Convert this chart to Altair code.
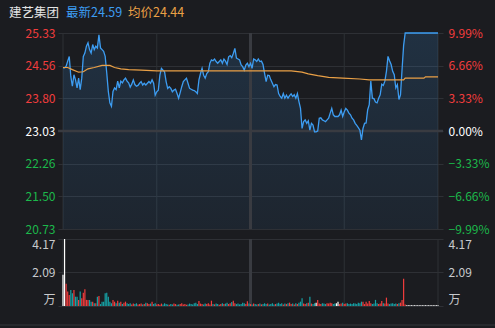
import altair as alt
import pandas as pd

# ---------------- data ----------------
TITLE = "建艺集团"
LATEST = "最新24.59"
AVG_TXT = "均价24.44"
PRE_CLOSE = 23.03
PRICE_TICKS = [20.73, 21.50, 22.26, 23.03, 23.80, 24.56, 25.33]
PCT_TICKS = [-9.99, -6.66, -3.33, 0.0, 3.33, 6.66, 9.99]
VOL_TICKS = [0, 2.09, 4.17]
TIME_POS = [0, 60, 120, 180, 240]
TIME_LABELS = ["09:30", "10:30", "11:30", "14:00", "15:00"]

price = [
    24.51, 24.51, 24.55, 24.67, 24.78, 24.31, 24.08, 24.35, 24.23, 24.04,
    24.27, 24.00, 24.27, 24.78, 24.86, 25.02, 25.10, 24.94, 24.86, 25.06,
    24.94, 25.02, 24.98, 25.29, 24.98, 24.94, 24.90, 24.78, 24.39, 23.96,
    23.69, 23.61, 23.96, 24.04, 24.00, 24.20, 24.04, 24.20, 24.16, 24.23,
    24.27, 24.20, 24.16, 24.06, 24.13, 24.23, 24.12, 24.08, 24.10,
    24.15, 24.19, 24.11, 24.15, 24.11, 24.15, 24.19, 24.15, 24.23, 24.15,
    23.87, 23.95, 23.99, 24.34, 24.50, 24.46, 24.42, 24.19, 24.03, 24.07,
    24.03, 23.95, 23.99, 24.01, 23.91, 23.80, 23.93, 24.07, 24.19, 24.23,
    24.27, 24.15, 24.03, 24.01, 23.99, 23.98, 23.95, 23.91, 24.23, 24.38,
    24.50, 24.34, 24.27, 24.38, 24.42, 24.62, 24.70, 24.68,
    24.72, 24.66, 24.62, 24.66, 24.70, 24.62, 24.72, 24.67, 24.59, 24.77,
    24.80, 24.75, 24.85, 24.97, 24.74, 24.72, 24.70, 24.58, 24.54, 24.46,
    24.58, 24.62, 24.54, 24.62, 24.50, 24.72, 24.70, 24.66, 24.72, 24.66,
    24.67, 24.59, 24.38, 24.19, 24.34, 24.33, 24.23, 24.15, 24.07, 24.12,
    24.11, 23.91, 23.84, 23.80, 23.91, 23.80, 23.87, 23.80, 23.86,
    23.90, 23.84, 23.88, 23.80, 23.91, 23.72, 23.56, 23.09, 23.25, 23.29,
    23.21, 23.27, 23.05, 23.21, 23.17, 23.01, 23.01, 23.03, 23.33, 23.34,
    23.29, 23.27, 23.25, 23.29, 23.33, 23.45, 23.56, 23.41, 23.37, 23.37,
    23.37, 23.41, 23.52, 23.37, 23.48, 23.56, 23.52, 23.45, 23.41, 23.33,
    23.29, 23.21, 23.16, 23.11, 23.05, 22.82, 23.09, 23.21, 23.22,
    23.53, 23.65, 24.20, 23.80, 23.79, 23.71, 23.69, 23.80, 23.88, 24.13,
    24.10, 24.20, 24.43, 24.78, 24.68, 24.59, 24.43, 24.35, 24.04, 24.12,
    23.77, 23.88, 24.48, 25.04, 25.33,
    25.33, 25.33, 25.33, 25.33, 25.33, 25.33, 25.33, 25.33, 25.33, 25.33,
    25.33, 25.33, 25.33, 25.33, 25.33, 25.33, 25.33, 25.33, 25.33, 25.33,
    25.33,
]

avg_t = [0, 3, 6, 10, 13, 16, 20, 25, 30, 33, 37, 42, 50, 60, 146, 153, 157,
         163, 170, 179, 190, 196, 218, 219, 231, 232, 240]
avg_p = [24.52, 24.52, 24.47, 24.41, 24.42, 24.49, 24.52, 24.57, 24.57, 24.52,
         24.49, 24.47, 24.46, 24.44, 24.44, 24.41, 24.37, 24.33, 24.29, 24.27,
         24.25, 24.23, 24.23, 24.27, 24.27, 24.30, 24.30]

volume = [
    1.94, 4.17, 1.38, 0.90, 0.69, 1.00, 0.79, 1.00, 0.58, 0.58,
    0.38, 0.90, 0.48, 0.83, 1.04, 0.38, 0.38, 0.38, 0.27, 0.27,
    0.17, 0.17, 0.58, 0.63, 0.12, 0.27, 0.27, 0.79, 0.83, 0.58,
    0.27, 0.17, 0.38, 0.27, 0.17, 0.33, 0.21, 0.27, 0.12, 0.21,
    0.27, 0.17, 0.12, 0.17, 0.10, 0.15, 0.12, 0.17, 0.10, 0.12,
    0.15, 0.10, 0.12, 0.21, 0.17, 0.12, 0.15, 0.27, 0.12, 0.17,
    0.10, 0.12, 0.08, 0.15, 0.10, 0.17, 0.12, 0.10, 0.08, 0.12,
    0.10, 0.15, 0.12, 0.08, 0.10, 0.12, 0.17, 0.10, 0.12, 0.08,
    0.10, 0.15, 0.12, 0.10, 0.17, 0.21, 0.12, 0.31, 0.15, 0.12,
    0.10, 0.15, 0.12, 0.17, 0.10, 0.33, 0.12, 0.10, 0.15, 0.12,
    0.08, 0.12, 0.17, 0.12, 0.15, 0.21, 0.12, 0.17, 0.25, 0.33,
    0.17, 0.12, 0.15, 0.10, 0.12, 0.21, 0.17, 0.12, 0.29, 0.15,
    0.12, 0.10, 0.15, 0.12, 0.10, 0.12, 0.15, 0.10, 0.12, 0.17,
    0.12, 0.15, 0.10, 0.12, 0.17, 0.10, 0.12, 0.15, 0.21, 0.12,
    0.17, 0.10, 0.15, 0.12, 0.17, 0.21, 0.12, 0.15, 0.10, 0.17,
    0.12, 0.21, 0.27, 0.48, 0.15, 0.12, 0.17, 0.21, 0.58, 0.15,
    0.12, 0.17, 0.21, 0.38, 0.15, 0.12, 0.17, 0.15, 0.12, 0.17,
    0.15, 0.21, 0.17, 0.12, 0.15, 0.17, 0.27, 0.12, 0.15, 0.21,
    0.12, 0.15, 0.17, 0.12, 0.15, 0.12, 0.17, 0.15, 0.12, 0.21,
    0.17, 0.27, 0.27, 0.12, 0.27, 0.15, 0.31, 0.17, 0.12, 0.15,
    0.38, 0.17, 0.12, 0.15, 0.31, 0.17, 0.15, 0.52, 0.15, 0.12,
    0.15, 0.17, 0.12, 0.15, 0.12, 0.17, 0.21, 0.38, 1.69, 0.10,
    0.05, 0.05, 0.05, 0.05, 0.05, 0.05, 0.05, 0.05, 0.05, 0.05,
    0.05, 0.05, 0.05, 0.05, 0.05, 0.05, 0.05, 0.05, 0.05, 0.05,
    0.05,
]

# ---------------- styles ----------------
BG = "#1b1c20"
GRID = "#2e3035"
THICK = "#393b41"
BLUE = "#3d9df2"
ORANGE = "#eaa046"
RED = "#f23d3d"
GREEN = "#1cb84b"
TEAL = "#16a2a6"
WHITE = "#ffffff"
LABEL = "#c8cacd"
FONT = "Noto Sans CJK SC"

W = 385
P_TOP, P_BOT = 0, 196      # price panel pixel band
V_TOP, V_BOT = 206, 273    # volume panel pixel band

n = len(price)
minutes = list(range(n))
dirs = ["flat"] + [
    "up" if price[i] > price[i - 1] else ("down" if price[i] < price[i - 1] else "flat")
    for i in range(1, n)
]
df_price = pd.DataFrame({"t": minutes, "price": price})
df_avg = pd.DataFrame({"t": avg_t, "avg": avg_p})
df_vol = pd.DataFrame({"t": minutes, "vol": volume, "dir": dirs})
df_pticks = pd.DataFrame({"p": PRICE_TICKS})
df_pct = pd.DataFrame({"pct": PCT_TICKS})
df_volticks = pd.DataFrame({"v": VOL_TICKS})
df_pre = pd.DataFrame({"p": [PRE_CLOSE]})
df_time = pd.DataFrame({"t": TIME_POS})
df_noon = pd.DataFrame({"t": [TIME_POS[2]]})

time_expr = "''"
for pos, lab in reversed(list(zip(TIME_POS, TIME_LABELS))):
    time_expr = f"datum.value == {pos} ? '{lab}' : ({time_expr})"

xscale = alt.Scale(domain=[TIME_POS[0], TIME_POS[-1]], nice=False, zero=False)


def pscale():
    return alt.Scale(domain=[PRICE_TICKS[0], PRICE_TICKS[-1]], nice=False, zero=False,
                     range=[P_BOT, P_TOP])


pctscale = alt.Scale(domain=[PCT_TICKS[0], PCT_TICKS[-1]], nice=False, zero=False,
                     range=[P_BOT, P_TOP])


def vscale():
    return alt.Scale(domain=[VOL_TICKS[0], VOL_TICKS[-1]], nice=False, zero=False,
                     range=[V_BOT, V_TOP])


xnone = alt.X("t:Q", scale=xscale, axis=None)

price_color = {"condition": [
    {"test": f"datum.value > {PRE_CLOSE + 0.004}", "value": RED},
    {"test": f"datum.value < {PRE_CLOSE - 0.004}", "value": GREEN}],
    "value": WHITE}
pct_color = {"condition": [
    {"test": "datum.value > 0.001", "value": RED},
    {"test": "datum.value < -0.001", "value": GREEN}],
    "value": WHITE}
vol_expr = "datum.value == 0 ? '万' : format(datum.value, '.2f')"

grad = alt.Gradient(
    gradient="linear",
    stops=[alt.GradientStop(color="rgba(61,157,242,0.16)", offset=0),
           alt.GradientStop(color="rgba(61,157,242,0.07)", offset=1)],
    x1=1, x2=1, y1=0, y2=1)

# ---- price panel (shared price scale) ----
vgrid_p = alt.Chart(df_time).mark_rule(color=GRID, strokeWidth=1).encode(
    x=xnone, y=alt.value(P_TOP), y2=alt.value(P_BOT))
area = alt.Chart(df_price).mark_area(color=grad).encode(
    x=xnone,
    y=alt.Y("price:Q", scale=pscale(), axis=None),
    y2=alt.datum(PRICE_TICKS[0]),
)
pre_rule = alt.Chart(df_pre).mark_rule(color=THICK, strokeWidth=2.5).encode(
    y=alt.Y("p:Q", scale=pscale(), axis=None))
noon_p = alt.Chart(df_noon).mark_rule(color=THICK, strokeWidth=3).encode(
    x=xnone, y=alt.value(P_TOP), y2=alt.value(P_BOT))
line = alt.Chart(df_price).mark_line(color=BLUE, strokeWidth=1.3).encode(
    x=xnone, y=alt.Y("price:Q", scale=pscale(), axis=None))
avg_line = alt.Chart(df_avg).mark_line(color=ORANGE, strokeWidth=1.2).encode(
    x=xnone, y=alt.Y("avg:Q", scale=pscale(), axis=None))
price_inner = alt.layer(vgrid_p, area, pre_rule, noon_p, line, avg_line)

price_axis = alt.Chart(df_pticks).mark_point(opacity=0, size=1).encode(
    y=alt.Y("p:Q", scale=pscale(), axis=alt.Axis(
        orient="left", values=PRICE_TICKS, format=".2f", grid=True, gridColor=GRID,
        ticks=False, domain=False, labelPadding=3, labelColor=price_color,
        title=None)))

pct_axis = alt.Chart(df_pct).mark_point(opacity=0, size=1).encode(
    y=alt.Y("pct:Q", scale=pctscale, axis=alt.Axis(
        orient="right", values=PCT_TICKS, format=".2f", labelExpr="datum.label + '%'",
        grid=False, ticks=False, domain=False, labelPadding=5,
        labelColor=pct_color, title=None)))

# ---- volume panel (shared volume scale) ----
vgrid_v = alt.Chart(df_time).mark_rule(color=GRID, strokeWidth=1).encode(
    x=xnone, y=alt.value(V_TOP), y2=alt.value(V_BOT))
noon_v = alt.Chart(df_noon).mark_rule(color=THICK, strokeWidth=3).encode(
    x=xnone, y=alt.value(V_TOP), y2=alt.value(V_BOT))
bars = alt.Chart(df_vol).mark_bar(width=1.2).encode(
    x=alt.X("t:Q", scale=xscale, axis=alt.Axis(
        values=TIME_POS, grid=False, ticks=False, domain=False,
        labelExpr=time_expr, labelFlush=False, labelPadding=5, labelColor=LABEL,
        title=None)),
    y=alt.Y("vol:Q", scale=vscale(), axis=alt.Axis(
        orient="left", values=VOL_TICKS, grid=True, gridColor=GRID, ticks=False,
        domain=False, labelFlush=True, labelPadding=3, labelColor=LABEL,
        labelExpr=vol_expr, title=None)),
    y2=alt.datum(0),
    color=alt.Color("dir:N", scale=alt.Scale(
        domain=["up", "down", "flat"], range=[RED, TEAL, WHITE]), legend=None),
)
vol_inner = alt.layer(vgrid_v, noon_v, bars)

vol_axis = alt.Chart(df_volticks).mark_point(opacity=0, size=1).encode(
    y=alt.Y("v:Q", scale=vscale(), axis=alt.Axis(
        orient="right", values=VOL_TICKS, grid=False, ticks=False, domain=False,
        labelFlush=True, labelPadding=5, labelColor=LABEL,
        labelExpr=vol_expr, title=None)))

# ---- header & frame ----
hdr1 = alt.Chart(pd.DataFrame({"s": [TITLE]})).mark_text(
    align="left", baseline="middle", fontSize=12.5, font=FONT, color="#e4e4e4"
).encode(x=alt.value(-49), y=alt.value(-20), text="s:N")
hdr2 = alt.Chart(pd.DataFrame({"s": [LATEST]})).mark_text(
    align="left", baseline="middle", fontSize=12.5, font=FONT, color=BLUE
).encode(x=alt.value(8), y=alt.value(-20), text="s:N")
hdr3 = alt.Chart(pd.DataFrame({"s": [AVG_TXT]})).mark_text(
    align="left", baseline="middle", fontSize=12.5, font=FONT, color=ORANGE
).encode(x=alt.value(70), y=alt.value(-20), text="s:N")
bottom_line = alt.Chart(df_noon).mark_rule(color="#34363b", strokeWidth=1).encode(
    x=alt.value(-58), x2=alt.value(437), y=alt.value(292))
deco = alt.layer(hdr1, hdr2, hdr3, bottom_line)

chart = alt.layer(price_axis, price_inner, pct_axis, vol_inner, vol_axis, deco).resolve_scale(
    y="independent").properties(
    width=W, height=V_BOT,
    autosize=alt.AutoSizeParams(type="none"),
    padding={"left": 58, "top": 33, "right": 52, "bottom": 22},
).configure(background=BG).configure_view(stroke=None).configure_axis(
    labelFont=FONT, labelFontSize=12)

chart.save("out.html", embed_options={"renderer": "svg", "actions": False})
